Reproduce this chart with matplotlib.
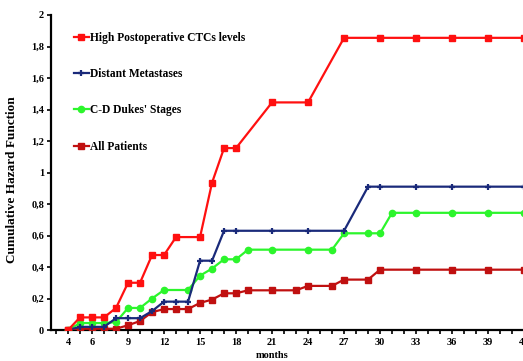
import matplotlib
matplotlib.use("Agg")
import matplotlib.pyplot as plt
from matplotlib.ticker import FixedLocator, FuncFormatter

# ---- data ----
months_high = [4, 5, 6, 7, 8, 9, 10, 11, 12, 13, 15, 16, 17, 18, 21, 24, 27, 30, 33, 36, 39, 42]
high_ctc    = [0, 0.08, 0.08, 0.08, 0.14, 0.30, 0.30, 0.476, 0.476, 0.59, 0.59, 0.935, 1.155, 1.155,
               1.445, 1.445, 1.855, 1.855, 1.855, 1.855, 1.855, 1.855]

months_meta = [4, 5, 6, 7, 8, 9, 10, 11, 12, 13, 14, 15, 16, 17, 18, 21, 24, 27, 29, 30, 33, 36, 39, 42]
distant_meta = [0, 0.02, 0.02, 0.02, 0.075, 0.075, 0.075, 0.12, 0.18, 0.18, 0.18, 0.44, 0.44, 0.63,
                0.63, 0.63, 0.63, 0.63, 0.91, 0.91, 0.91, 0.91, 0.91, 0.91]

months_dukes = [4, 5, 6, 7, 8, 9, 10, 11, 12, 14, 15, 16, 17, 18, 19, 21, 24, 26, 27, 29, 30, 31,
                33, 36, 39, 42]
dukes_cd = [0, 0.044, 0.044, 0.044, 0.05, 0.14, 0.14, 0.20, 0.254, 0.254, 0.345, 0.39, 0.449, 0.449,
            0.51, 0.51, 0.51, 0.51, 0.614, 0.614, 0.614, 0.744, 0.744, 0.744, 0.744, 0.744]

months_all = [4, 5, 6, 7, 8, 9, 10, 11, 12, 13, 14, 15, 16, 17, 18, 19, 21, 23, 24, 26, 27, 29, 30,
              33, 36, 39, 42]
all_pat = [0, 0.008, 0.008, 0.008, 0.008, 0.03, 0.057, 0.113, 0.133, 0.133, 0.133, 0.172, 0.193,
           0.233, 0.233, 0.252, 0.252, 0.252, 0.28, 0.28, 0.32, 0.32, 0.383, 0.383, 0.383, 0.383, 0.383]

labels = ["High Postoperative CTCs levels", "Distant Metastases", "C-D Dukes' Stages", "All Patients"]
xtick_labels = [4, 6, 9, 12, 15, 18, 21, 24, 27, 30, 33, 36, 39, 42]
ytick_vals = [0, 0.2, 0.4, 0.6, 0.8, 1.0, 1.2, 1.4, 1.6, 1.8, 2.0]

# ---- figure ----
W, H = 523, 361
fig = plt.figure(figsize=(W / 100, H / 100), dpi=100)
plt.rcParams['font.family'] = ['Liberation Serif', 'DejaVu Serif']
plt.rcParams['font.weight'] = 'bold'

left_px, right_px, top_px, bottom_px = 51, 540, 15, 330
ax = fig.add_axes([left_px / W, 1 - bottom_px / H, (right_px - left_px) / W, (bottom_px - top_px) / H])

lw = 1.6
h_all, = ax.plot(months_all, all_pat, color='#C01010', lw=lw, marker='s', ms=4.5, zorder=3)
h_dukes, = ax.plot(months_dukes, dukes_cd, color='#2CF52C', lw=lw, marker='o', ms=4.5, zorder=4)
h_meta, = ax.plot(months_meta, distant_meta, color='#1A2A7A', lw=lw, marker='+', ms=4.5, mew=1.6, zorder=5)
h_high, = ax.plot(months_high, high_ctc, color='#FF1010', lw=lw, marker='s', ms=4.5, zorder=6)

ax.set_xlim(2.58, 43.33)
ax.set_ylim(0, 2.0)

for s in ['top', 'right']:
    ax.spines[s].set_visible(False)
for s in ['left', 'bottom']:
    ax.spines[s].set_linewidth(1.6)
    ax.spines[s].set_color('black')

ax.xaxis.set_major_locator(FixedLocator(xtick_labels))
ax.xaxis.set_minor_locator(FixedLocator(list(range(3, 44))))
ax.set_xticklabels([str(v) for v in xtick_labels])
ax.yaxis.set_major_locator(FixedLocator(ytick_vals))
ax.yaxis.set_major_formatter(FuncFormatter(lambda v, p: ('%g' % round(v, 1)).replace('.', ',')))

ax.tick_params(axis='x', which='both', direction='out', length=3, width=1.2, pad=3, labelsize=7.5)
ax.tick_params(axis='y', which='major', direction='out', length=3, width=1.2, pad=2, labelsize=7.5)
for t in ax.get_xticklabels() + ax.get_yticklabels():
    t.set_fontweight('bold')

ax.set_ylabel("Cumulative Hazard Function", fontsize=9.5, fontweight='bold')
ax.yaxis.set_label_coords(-(left_px - 18) / (right_px - left_px), (bottom_px - 180) / (bottom_px - top_px))
ax.set_xlabel("months", fontsize=7.5, fontweight='bold')
ax.xaxis.set_label_coords((272 - left_px) / (right_px - left_px), -(355 - bottom_px) / (bottom_px - top_px))
ax.xaxis.label.set_va('center')

leg = ax.legend([h_high, h_meta, h_dukes, h_all], labels, loc='upper left',
                bbox_to_anchor=((74 - left_px) / (right_px - left_px), 1 - (32 - top_px) / (bottom_px - top_px)),
                frameon=False, fontsize=8.3, labelspacing=2.1, handlelength=1.3, handletextpad=0.1,
                borderaxespad=0, borderpad=0)
for t in leg.get_texts():
    t.set_fontweight('bold')

fig.savefig("out.png", dpi=100)
